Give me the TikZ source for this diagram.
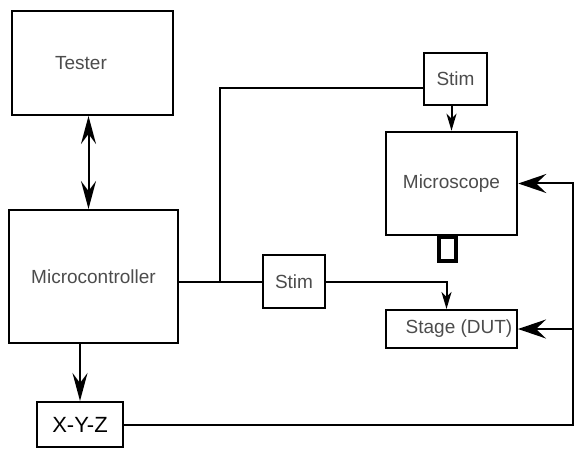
\documentclass[tikz,border=0pt]{standalone}
\usepackage{fontspec}
\setmainfont{Liberation Sans}
\usetikzlibrary{arrows.meta,positioning,calc}

\begin{document}
\begin{tikzpicture}[x=1pt, y=-1pt,
    box/.style={draw, line width=2pt, inner sep=0pt, text=black!70, font=\fontsize{19}{22}\selectfont},
    wire/.style={line width=2pt},
    >={Stealth[length=28pt,width=15pt,inset=10pt]},
    small/.style={-{Stealth[length=17pt,width=10pt,inset=5pt]}},
    fat/.style={-{Stealth[length=28pt,width=19pt,inset=10pt]}}]
    \useasboundingbox (0,0) rectangle (575,449);

    % Left column
    \node[box, minimum width=161, minimum height=104] (tester) at (92.5,63) {\hspace*{-23pt}Tester};
    \node[box, minimum width=169, minimum height=133] (micro) at (93.5,276.5) {Microcontroller};
    \node[box, minimum width=86, minimum height=45, text=black, font=\fontsize{22}{24}\selectfont] (xyz) at (80,424.5) {X-Y-Z};

    \draw[wire, <->] ([xshift=-4pt]tester.south) -- ([xshift=-4pt]tester.south |- micro.north);
    \draw[wire, ->] (xyz.north |- micro.south) -- (xyz.north);

    % Stimulus boxes
    \node[box, minimum width=63, minimum height=52] (stimtop) at (455.5,79) {Stim};
    \node[box, minimum width=62, minimum height=53] (stimlow) at (294,281.5) {Stim};
    \coordinate (split) at (220,281.5);

    \draw[wire] (stimlow.west -| micro.east) -- (stimlow.west);
    \draw[line width=2.6pt] (split) |- ([yshift=-9pt]stimtop.west);

    % Right column
    \node[box, line width=2.5pt, minimum width=131, minimum height=103] (scope) at (451.5,183.5) {Microscope};
    \node[draw, line width=3.5pt, minimum width=17, minimum height=24, anchor=north] (eyepiece) at ([xshift=-4pt,yshift=1pt]scope.south) {};
    \node[box, minimum width=131, minimum height=38] (stage) at (451.5,329) {\hspace*{15pt}Stage (DUT)};

    \draw[wire, small] (scope.north |- stimtop.south) -- (scope.north);
    \draw[wire, small] (stimlow.east) -| ([xshift=-5pt]stage.north);

    % Positioning feedback
    \coordinate (rail) at (573,424.5);
    \draw[wire, fat] (xyz.east) -- (rail) |- (scope.east);
    \draw[wire, fat] (rail |- stage.east) -- (stage.east);
\end{tikzpicture}
\end{document}
